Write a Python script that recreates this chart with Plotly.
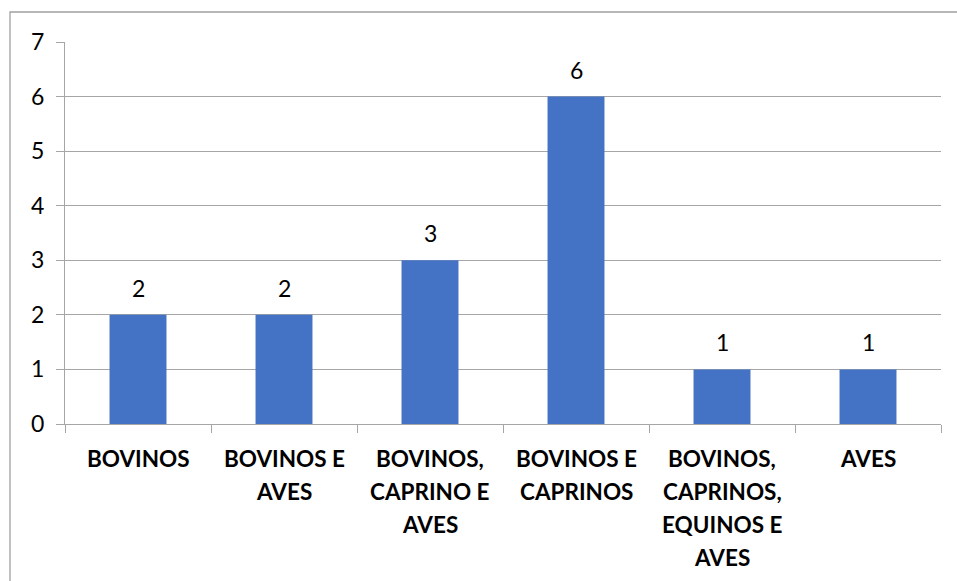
import plotly.graph_objects as go

categories = ["BOVINOS", "BOVINOS E AVES", "BOVINOS, CAPRINO E AVES", "BOVINOS E CAPRINOS",
              "BOVINOS, CAPRINOS, EQUINOS E AVES", "AVES"]
label_lines = [["BOVINOS"], ["BOVINOS E", "AVES"], ["BOVINOS,", "CAPRINO E", "AVES"],
               ["BOVINOS E", "CAPRINOS"], ["BOVINOS,", "CAPRINOS,", "EQUINOS E", "AVES"], ["AVES"]]
values = [2, 2, 3, 6, 1, 1]
y_ticks = [0, 1, 2, 3, 4, 5, 6, 7]

W, H = 957, 581
L, R, T, B = 65, 16, 42, 157
pw, ph = W - L - R, H - T - B
FONT = "Lato, Open Sans, sans-serif"

fig = go.Figure()
fig.add_trace(go.Bar(x=categories, y=values, marker_color="#4472C4", marker_line_width=0,
                     hoverinfo="skip"))

for c, v in zip(categories, values):
    fig.add_annotation(x=c, y=v, text=str(v), showarrow=False, yanchor="middle", yshift=27,
                       font=dict(family=FONT, size=23, color="#000000"))

for c, lines in zip(categories, label_lines):
    for i, line in enumerate(lines):
        fig.add_annotation(x=c, y=0, text=f"<b>{line}</b>", showarrow=False, yanchor="middle",
                           yshift=-(34 + 33 * i),
                           font=dict(family=FONT, size=22.5, color="#000000"))

# outer chart border (only top and left edges visible)
fig.add_shape(type="rect", xref="paper", yref="paper",
              x0=(10 - L) / pw, x1=(W + 20 - L) / pw,
              y0=-(H + 20 - T - ph) / ph, y1=(H - B - 12) / ph,
              line=dict(color="#a0a0a0", width=1.3), layer="below")

fig.update_layout(
    width=W, height=H,
    margin=dict(l=L, r=R, t=T, b=B, autoexpand=False),
    paper_bgcolor="white", plot_bgcolor="white",
    bargap=0.61, showlegend=False,
    font=dict(family=FONT, color="#000000"),
)
fig.update_xaxes(type="category", tickson="boundaries", ticks="outside", ticklen=8,
                 tickcolor="#a6a6a6", showline=True, linecolor="#a6a6a6", linewidth=1.3,
                 showgrid=False, showticklabels=False, fixedrange=True)
fig.update_yaxes(range=[0, 7], tickvals=y_ticks, ticks="outside", ticklen=8, tickcolor="#a6a6a6",
                 showline=True, linecolor="#a6a6a6", linewidth=1.3,
                 showgrid=True, gridcolor="#a6a6a6", gridwidth=1.3, zeroline=False,
                 tickfont=dict(size=23), ticklabelstandoff=7, fixedrange=True)

fig.write_html("out.html")
